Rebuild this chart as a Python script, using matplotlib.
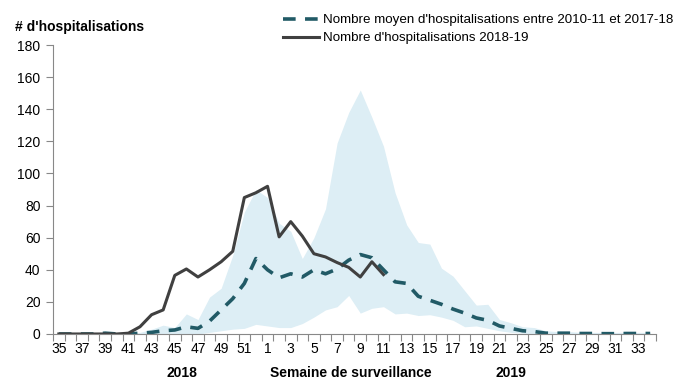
import matplotlib
matplotlib.use('Agg')
import matplotlib.pyplot as plt
import numpy as np

plt.rcParams['font.family'] = ['Liberation Sans', 'DejaVu Sans']

# semaines de surveillance : 35 à 52 (2018) puis 1 à 34 (2019)
semaines = list(range(35, 53)) + list(range(1, 35))

# nombre d'hospitalisations 2018-19 (jusqu'à la semaine 11 de 2019)
hosp_2018_19 = [0, 0, 0, 0, 0, 0, 0.5, 4.5, 12, 15, 36.5, 40.5, 35.5, 40, 45, 51.5, 85, 88,
                92, 60.5, 70, 61, 50, 48, 44.5, 41.5, 35.5, 45, 37]

# nombre moyen 2010-11 à 2017-18
moyenne = [0, 0, 0, 0, 0.5, 0, 0, 0.5, 1, 2, 2.5, 4.5, 3.5, 8, 15, 22, 31.5, 47,
           40, 35, 37.5, 35.5, 40, 37.5, 40.5, 46, 49.5, 47.5, 40, 32.5, 31.5, 23.5, 21,
           18.5, 15.5, 13, 10, 8.5, 5, 3.5, 2, 1.5, 0.5, 0.5, 0.5, 0.3, 0.3, 0.2, 0.2,
           0.3, 0.3, 0.3]

# min / max des saisons précédentes
maximum = [0.5, 0.5, 0.5, 0.5, 1.5, 0.5, 0.5, 1, 3, 5.5, 4, 12.5, 9, 23, 28.5, 49, 76, 90,
           85, 69, 64, 47, 60, 78, 119, 138, 152, 135, 117, 88, 68, 57, 56,
           41, 36, 27, 18, 18.5, 9, 7, 4.5, 4, 2, 1.5, 1.5, 1, 1, 1, 1, 1, 1, 1]
minimum = [0, 0, 0, 0, 0, 0, 0, 0, 0, 0, 0, 0, 0, 1, 2, 3, 3.5, 6,
           5, 4, 4, 6.5, 10.5, 15, 17, 24, 13, 16, 17, 12.5, 13, 11.5, 12,
           10.5, 8.5, 4.5, 5, 3.5, 2, 1, 0.5, 0, 0, 0, 0, 0, 0, 0, 0, 0, 0, 0]

x = np.arange(len(semaines))

fig = plt.figure(figsize=(6.94, 3.92), dpi=100)
ax = fig.add_axes([0.0764, 0.148, 0.8688, 0.737])

ax.fill_between(x, minimum, maximum, color='#DDEEF5', linewidth=0)
l1, = ax.plot(x, moyenne, color='#215A66', lw=2.6, linestyle=(0, (3.5, 2.6)),
              label="Nombre moyen d'hospitalisations entre 2010-11 et 2017-18")
l2, = ax.plot(x[:len(hosp_2018_19)], hosp_2018_19, color='#404040', lw=2.2,
              label="Nombre d'hospitalisations 2018-19")

ax.set_xlim(-0.5, len(semaines) - 0.5)
ax.set_ylim(0, 180)
ax.set_yticks(range(0, 181, 20))
ax.tick_params(axis='y', length=5, color='#888888', labelsize=10, pad=4)

# graduations entre les catégories, étiquettes une semaine sur deux
ax.set_xticks(np.arange(-0.5, len(semaines), 1))
ax.set_xticklabels([])
ax.set_xticks(x[::2], minor=True)
ax.set_xticklabels([str(s) for s in semaines[::2]], minor=True)
ax.tick_params(axis='x', which='major', length=5, color='#888888')
ax.tick_params(axis='x', which='minor', length=0, labelsize=10, pad=6)

for s in ['top', 'right']:
    ax.spines[s].set_visible(False)
for s in ['left', 'bottom']:
    ax.spines[s].set_color('#888888')

fig.text(15 / 694, 1 - 31 / 392, "# d'hospitalisations", fontsize=10, fontweight='bold')
fig.text(182 / 694, 1 - 373 / 392, '2018', fontsize=10, fontweight='bold', ha='center', va='center')
fig.text(351 / 694, 1 - 373 / 392, 'Semaine de surveillance', fontsize=10, fontweight='bold',
         ha='center', va='center')
fig.text(511 / 694, 1 - 373 / 392, '2019', fontsize=10, fontweight='bold', ha='center', va='center')

fig.legend(handles=[l1, l2], loc='upper left', bbox_to_anchor=(283 / 694, 1 - 14 / 392),
           frameon=False, borderpad=0, borderaxespad=0, fontsize=9.6, handlelength=2.7,
           handletextpad=0.3, labelspacing=0.42)

fig.savefig('out.png', dpi=100)
